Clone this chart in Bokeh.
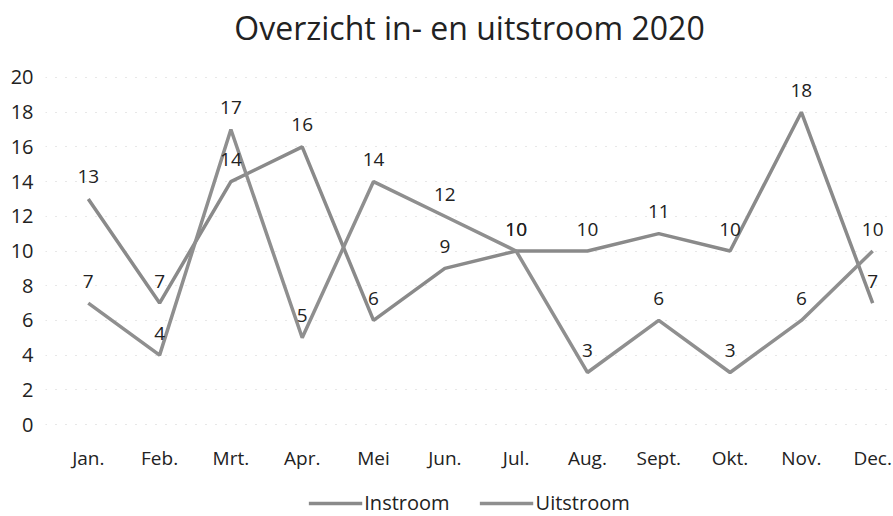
from bokeh.plotting import figure
from bokeh.models import Range1d, FixedTicker, Legend, LegendItem, ColumnDataSource
from bokeh.core.properties import value
from bokeh.embed import file_html
from bokeh.resources import INLINE

months = ["Jan.", "Feb.", "Mrt.", "Apr.", "Mei", "Jun.", "Jul.", "Aug.", "Sept.", "Okt.", "Nov.", "Dec."]
instroom = [13, 7, 14, 16, 6, 9, 10, 10, 11, 10, 18, 7]
uitstroom = [7, 4, 17, 5, 14, 12, 10, 3, 6, 3, 6, 10]
y_ticks = [0, 2, 4, 6, 8, 10, 12, 14, 16, 18, 20]

FONT = "Open Sans"
xs = list(range(len(months)))

p = figure(frame_width=848, frame_height=468, output_backend="svg", toolbar_location=None,
           x_range=Range1d(-0.6, 11.292), y_range=Range1d(-5.30, 21.67),
           x_axis_location=None,
           min_border_left=45, min_border_right=0, min_border_top=48, min_border_bottom=0)

p.title.text = "Overzicht in- en uitstroom 2020"
p.title.align = "center"
p.title.text_font = FONT
p.title.text_font_size = "32px"
p.title.text_font_style = "normal"
p.title.text_color = "#222222"
p.title.standoff = 0

p.outline_line_color = None
p.background_fill_color = "white"

p.yaxis.ticker = FixedTicker(ticks=y_ticks)
p.yaxis.axis_line_color = None
p.yaxis.major_tick_line_color = None
p.yaxis.minor_tick_line_color = None
p.yaxis.major_tick_out = 0
p.yaxis.major_tick_in = 0
p.yaxis.major_label_text_font = FONT
p.yaxis.major_label_text_font_size = "20px"
p.yaxis.major_label_text_color = "#222222"
p.yaxis.major_label_standoff = 12

p.xgrid.grid_line_color = None
p.ygrid.ticker = FixedTicker(ticks=y_ticks)
p.ygrid.grid_line_color = "#cfcfcf"
p.ygrid.grid_line_dash = "1 9"
p.ygrid.grid_line_width = 1

src = ColumnDataSource(dict(x=xs, inn=instroom, uit=uitstroom, zero=[0] * len(xs), month=months,
                            inn_t=[str(v) for v in instroom], uit_t=[str(v) for v in uitstroom]))

l1 = p.line("x", "inn", source=src, line_color="#8a8a8a", line_width=3.5)
l2 = p.line("x", "uit", source=src, line_color="#8f8f8f", line_width=3.5)

for col in ("inn", "uit"):
    p.text("x", col, text=col + "_t", source=src, text_align="center", text_baseline="alphabetic",
           y_offset=-22, text_font=value(FONT), text_font_size="19px", text_color="#222222")

# category (month) labels under the zero line
p.text("x", "zero", text="month", source=src, text_align="center", text_baseline="middle",
       y_offset=33, text_font=value(FONT), text_font_size="19px", text_color="#222222")

legend = Legend(items=[LegendItem(label="Instroom", renderers=[l1]),
                       LegendItem(label="Uitstroom", renderers=[l2])],
                orientation="horizontal", location="bottom_center",
                label_text_font=FONT, label_text_font_size="20px", label_text_color="#222222",
                glyph_width=54, glyph_height=20, label_standoff=2, spacing=30,
                padding=0, margin=0, border_line_color=None, background_fill_alpha=0)
p.add_layout(legend)

open("out.html", "w").write(file_html(p, INLINE))
